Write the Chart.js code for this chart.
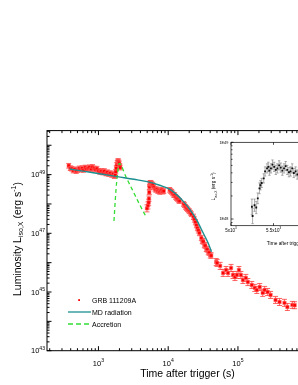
<!DOCTYPE html>
<html>
<head>
<meta charset="utf-8">
<script src="https://cdn.jsdelivr.net/npm/chart.js@4.4.1/dist/chart.umd.min.js"></script>
<style>
html, body { margin: 0; padding: 0; overflow: hidden; background: #fff; }
#wrap { position: relative; width: 330px; height: 385px; }
#c1 { position: absolute; left: 0; top: 0; }
#c2 { position: absolute; left: 200px; top: 130px; }
</style>
</head>
<body>
<div id="wrap">
  <canvas id="c1" width="330" height="385"></canvas>
  <canvas id="c2" width="160" height="120"></canvas>
</div>
<script>
const FONT = '"Liberation Sans", Arial, sans-serif';

// GRB 111209A X-ray light curve: time (s), log10 L (erg/s), error (dex)
const grbTime = [
  375, 395, 414, 435, 457, 480, 504, 530, 556, 585, 612, 645, 676, 710, 745, 785, 822,
  865, 906, 950, 1000, 1050, 1104, 1160, 1216, 1280, 1343, 1410, 1479, 1550, 1633, 1690, 1742,
  1770, 1799, 1830, 1862, 1890, 1923, 1955, 1986, 2020, 2051,
  4960, 5120, 5250, 5300, 5350, 5400, 5430, 5470, 5550, 5650, 5750, 5850,
  6020, 6220, 6450, 6650, 6900, 7100, 7350, 7570, 7820, 8090, 8350, 8630,
  10500, 10850, 11210, 11600, 11970, 12370, 12770, 13200, 13640, 14100, 14550,
  16600, 17150, 17700, 18300, 18900, 19550, 20200, 20850, 21500,
  23000, 23750, 24550, 25350, 26200, 27100, 28000,
  29870, 30850, 31900, 32950, 34000, 35150, 36300, 37550, 38800, 40100, 41400,
  48750, 50350, 55600, 61250, 67600, 72100, 79600, 84900, 90600, 96800,
  103300, 110300, 117800, 129800, 138600, 158000, 174200, 186200, 205200, 226300,
  241500, 266600, 293800, 345800, 394500, 464400, 511400, 602000, 650000
];
const grbLogL = [
  49.30, 49.22, 49.20, 49.14, 49.18, 49.12, 49.16, 49.21, 49.17, 49.22, 49.16, 49.24, 49.19, 49.22, 49.25, 49.19, 49.26,
  49.21, 49.17, 49.20, 49.13, 49.09, 49.12, 49.07, 49.12, 49.04, 49.08, 49.02, 49.05, 48.99, 49.02, 48.95, 48.98,
  49.10, 49.22, 49.33, 49.40, 49.45, 49.46, 49.42, 49.38, 49.30, 49.24,
  47.85, 47.95, 48.05, 48.18, 48.40, 48.58, 48.68, 48.70, 48.72, 48.68, 48.70, 48.63,
  48.66, 48.58, 48.52, 48.48, 48.50, 48.44, 48.46, 48.41, 48.45, 48.48, 48.42, 48.44,
  48.48, 48.44, 48.41, 48.36, 48.31, 48.30, 48.24, 48.20, 48.17, 48.12, 48.10,
  48.00, 47.96, 47.90, 47.86, 47.82, 47.78, 47.75, 47.70, 47.65,
  47.56, 47.47, 47.38, 47.28, 47.18, 47.10, 47.01,
  46.84, 46.74, 46.72, 46.60, 46.58, 46.47, 46.45, 46.36, 46.34, 46.25, 46.24,
  46.02, 45.99, 45.89, 45.65, 45.75, 45.65, 45.82, 45.58, 45.51, 45.58,
  45.75, 45.58, 45.41, 45.48, 45.34, 45.24, 45.14, 45.07, 45.17, 44.97,
  45.07, 45.00, 44.90, 44.73, 44.66, 44.63, 44.49, 44.56, 44.55
];
const grbErr = [
  0.08, 0.08, 0.08, 0.08, 0.08, 0.08, 0.08, 0.08, 0.08, 0.08, 0.08, 0.08, 0.08, 0.08, 0.08, 0.08, 0.08,
  0.08, 0.08, 0.08, 0.08, 0.08, 0.08, 0.08, 0.08, 0.08, 0.08, 0.08, 0.08, 0.08, 0.08, 0.08, 0.08,
  0.08, 0.08, 0.08, 0.08, 0.08, 0.08, 0.08, 0.08, 0.08, 0.08,
  0.12, 0.12, 0.11, 0.09, 0.08, 0.08, 0.08, 0.08, 0.08, 0.08, 0.08, 0.08,
  0.08, 0.08, 0.08, 0.08, 0.08, 0.08, 0.08, 0.08, 0.08, 0.08, 0.08, 0.08,
  0.08, 0.08, 0.08, 0.08, 0.08, 0.08, 0.08, 0.08, 0.08, 0.08, 0.08,
  0.08, 0.08, 0.08, 0.08, 0.08, 0.08, 0.08, 0.08, 0.08,
  0.09, 0.09, 0.09, 0.09, 0.09, 0.09, 0.09,
  0.09, 0.09, 0.09, 0.09, 0.09, 0.09, 0.09, 0.09, 0.09, 0.09, 0.09,
  0.12, 0.12, 0.12, 0.12, 0.12, 0.12, 0.12, 0.12, 0.12, 0.12,
  0.12, 0.12, 0.12, 0.12, 0.12, 0.12, 0.12, 0.12, 0.12, 0.12,
  0.12, 0.12, 0.12, 0.12, 0.12, 0.12, 0.12, 0.12, 0.12
];

// magnetar dipole (MD) radiation model
const mdTime = [388, 632, 1033, 1862, 3243, 5000, 7740, 10740, 13330, 16600, 20650, 25650, 31900, 37500, 41800];
const mdLogL = [49.19, 49.11, 49.03, 48.93, 48.84, 48.76, 48.63, 48.49, 48.31, 48.08, 47.80, 47.45, 47.00, 46.66, 46.37];

// accretion flare model
const accTime = [1670, 1783, 1879, 1986, 2099, 2472, 3070, 3816, 4750];
const accLogL = [47.42, 48.47, 49.04, 49.38, 49.33, 48.93, 48.48, 48.02, 47.59];

// inset: zoom on the flare near 5x10^3 s
const insetTime = [
  5246, 5254, 5277, 5297, 5315, 5335, 5346, 5361, 5385, 5401, 5424, 5439, 5452, 5470, 5488, 5508, 5527,
  5546, 5566, 5585, 5604, 5624, 5643, 5662, 5682, 5701, 5720, 5739, 5760, 5780, 5800, 5830, 5860, 5890
];
const insetLogL = [
  48.16, 48.04, 48.18, 48.15, 48.27, 48.40, 48.44, 48.47, 48.53, 48.62, 48.66, 48.68, 48.63, 48.66, 48.71, 48.68, 48.64,
  48.66, 48.70, 48.67, 48.63, 48.66, 48.69, 48.64, 48.61, 48.62, 48.66, 48.60, 48.62, 48.58, 48.61, 48.57, 48.60, 48.56
];
const insetErr = [
  0.10, 0.10, 0.08, 0.08, 0.07, 0.07, 0.06, 0.06, 0.06, 0.06, 0.06, 0.06, 0.06, 0.06, 0.06, 0.06, 0.06,
  0.06, 0.06, 0.06, 0.06, 0.06, 0.06, 0.06, 0.06, 0.06, 0.06, 0.06, 0.06, 0.06, 0.06, 0.06, 0.06, 0.06
];

// tick labels
const xTickVals = [1e3, 1e4, 1e5];
const yTickVals = [1e43, 1e45, 1e47, 1e49];
const insetXTicks = [5000, 5500, 6000];
const insetXLabels = [['5x10', '3'], ['5.5x10', '3']];
const insetYTicks = [1e48, 1e49];
const insetYLabels = ['1E48', '1E49'];

function points(ts, logs) {
  return ts.map((t, i) => ({x: t, y: Math.pow(10, logs[i])}));
}

function logMarks(scale) {
  const out = [];
  const lo = Math.floor(Math.log10(scale.min)), hi = Math.ceil(Math.log10(scale.max));
  for (let e = lo; e <= hi; e++) {
    for (let m = 1; m < 10; m++) {
      const v = m * Math.pow(10, e);
      if (v >= scale.min * 0.999 && v <= scale.max * 1.001) out.push({v, major: m === 1});
    }
  }
  return out;
}

function supText(ctx, x, y, base, exp, size, align) {
  const es = size * 0.68;
  ctx.font = size + 'px ' + FONT;
  const wb = ctx.measureText(base).width;
  ctx.font = es + 'px ' + FONT;
  const we = exp ? ctx.measureText(exp).width : 0;
  const w = wb + we;
  const x0 = align === 'center' ? x - w / 2 : align === 'right' ? x - w : x;
  ctx.textAlign = 'left';
  ctx.textBaseline = 'alphabetic';
  ctx.font = size + 'px ' + FONT;
  ctx.fillText(base, x0, y);
  if (exp) {
    ctx.font = es + 'px ' + FONT;
    ctx.fillText(exp, x0 + wb, y - size * 0.5);
  }
}

function richText(ctx, parts, cx, cy, rotate) {
  ctx.save();
  ctx.translate(cx, cy);
  if (rotate) ctx.rotate(-Math.PI / 2);
  ctx.textAlign = 'left';
  ctx.textBaseline = 'alphabetic';
  let w = 0;
  parts.forEach(p => { ctx.font = p[1] + 'px ' + FONT; w += ctx.measureText(p[0]).width; });
  let x = -w / 2;
  parts.forEach(p => {
    ctx.font = p[1] + 'px ' + FONT;
    ctx.fillText(p[0], x, p[2]);
    x += ctx.measureText(p[0]).width;
  });
  ctx.restore();
}

const errorBars = {
  id: 'errorBars',
  beforeDatasetsDraw(chart) {
    const {ctx, chartArea: a, scales} = chart;
    ctx.save();
    ctx.beginPath();
    ctx.rect(a.left, a.top, a.right - a.left, a.bottom - a.top);
    ctx.clip();
    chart.data.datasets.forEach(ds => {
      if (!ds.errors) return;
      ctx.strokeStyle = ds.errorColor;
      ctx.lineWidth = ds.errorWidth;
      const cap = ds.errorCap;
      ctx.beginPath();
      ds.data.forEach((p, j) => {
        const f = Math.pow(10, ds.errors[j]);
        const px = scales.x.getPixelForValue(p.x);
        const y1 = scales.y.getPixelForValue(p.y * f);
        const y2 = scales.y.getPixelForValue(p.y / f);
        ctx.moveTo(px, y1); ctx.lineTo(px, y2);
        ctx.moveTo(px - cap, y1); ctx.lineTo(px + cap, y1);
        ctx.moveTo(px - cap, y2); ctx.lineTo(px + cap, y2);
      });
      ctx.stroke();
    });
    ctx.restore();
  }
};

function makeDecor(cfg) {
  return {
    id: 'decor',
    afterDraw(chart) {
      const {ctx, chartArea: a, scales: {x, y}} = chart;
      ctx.save();
      ctx.strokeStyle = '#000';
      ctx.fillStyle = '#000';
      ctx.lineWidth = cfg.lw;
      ctx.strokeRect(a.left, a.top, a.right - a.left, a.bottom - a.top);
      const xm = x.type === 'logarithmic' ? logMarks(x) : cfg.xMarks.map(v => ({v, major: true}));
      const ym = logMarks(y);
      ctx.beginPath();
      xm.forEach(m => {
        const px = x.getPixelForValue(m.v), l = m.major ? cfg.major : cfg.minor;
        ctx.moveTo(px, a.bottom); ctx.lineTo(px, a.bottom - l);
        ctx.moveTo(px, a.top); ctx.lineTo(px, a.top + l);
      });
      ym.forEach(m => {
        const py = y.getPixelForValue(m.v), l = m.major ? cfg.major : cfg.minor;
        ctx.moveTo(a.left, py); ctx.lineTo(a.left + l, py);
        ctx.moveTo(a.right, py); ctx.lineTo(a.right - l, py);
      });
      ctx.stroke();
      cfg.xLabels.forEach(l => supText(ctx, x.getPixelForValue(l.v), a.bottom + cfg.xDy, l.base, l.exp, cfg.xFont, 'center'));
      cfg.yLabels.forEach(l => supText(ctx, a.left - cfg.yDx, y.getPixelForValue(l.v) + cfg.yFont * 0.36, l.base, l.exp, cfg.yFont, 'right'));
      if (cfg.extra) cfg.extra(ctx, chart);
      ctx.restore();
    }
  };
}

function mainExtras(ctx) {
  // axis titles
  richText(ctx, [['Luminosity L', 10.5, 0], ['iso,X', 7, 2.5], [' (erg s', 10.5, 0], ['-1', 7, -4.5], [')', 10.5, 0]], 20.5, 239, true);
  richText(ctx, [['Time after trigger (s)', 10.5, 0]], 187.5, 376.7, false);
  // legend
  ctx.fillStyle = '#ff0000';
  ctx.fillRect(78.2, 299.2, 1.8, 1.8);
  ctx.lineWidth = 1.3;
  ctx.strokeStyle = '#1b8f8f';
  ctx.beginPath(); ctx.moveTo(68, 312); ctx.lineTo(91, 312); ctx.stroke();
  ctx.strokeStyle = '#33dd33';
  ctx.setLineDash([5, 3]);
  ctx.beginPath(); ctx.moveTo(68, 324); ctx.lineTo(91, 324); ctx.stroke();
  ctx.setLineDash([]);
  ctx.fillStyle = '#000';
  ctx.font = '7px ' + FONT;
  ctx.textAlign = 'left';
  ctx.textBaseline = 'alphabetic';
  ctx.fillText('GRB 111209A', 92, 302.5);
  ctx.fillText('MD radiation', 92, 314.5);
  ctx.fillText('Accretion', 92, 326.5);
}

function insetExtras(ctx) {
  richText(ctx, [['L', 4.8, 0], ['iso,X', 3.3, 1.2], [' (erg s', 4.8, 0], ['-1', 3.3, -2], [')', 4.8, 0]], 15.4, 56.5, true);
  richText(ctx, [['Time after trigger (s)', 4.8, 0]], 88.5, 115, false);
}

new Chart(document.getElementById('c1'), {
  type: 'scatter',
  data: {
    datasets: [
      {
        label: 'MD radiation',
        data: points(mdTime, mdLogL),
        showLine: true,
        borderColor: '#1b8f8f',
        borderWidth: 1.4,
        pointRadius: 0,
        cubicInterpolationMode: 'monotone'
      },
      {
        label: 'Accretion',
        data: points(accTime, accLogL),
        showLine: true,
        borderColor: '#33dd33',
        borderWidth: 1.3,
        borderDash: [4, 3],
        pointRadius: 0,
        cubicInterpolationMode: 'monotone'
      },
      {
        label: 'GRB 111209A',
        data: points(grbTime, grbLogL),
        errors: grbErr,
        errorColor: 'rgba(255,60,60,0.8)',
        errorWidth: 1,
        errorCap: 2.5,
        pointStyle: 'rect',
        pointRadius: 2.4,
        backgroundColor: '#ff0000',
        borderColor: 'rgba(255,110,110,0.55)',
        borderWidth: 1
      }
    ]
  },
  options: {
    responsive: false,
    animation: false,
    layout: {padding: {top: 130.6, right: 2, left: 0, bottom: 0}},
    plugins: {legend: {display: false}, tooltip: {enabled: false}},
    scales: {
      x: {
        type: 'logarithmic', min: 183, max: 1.77e6,
        grid: {display: false}, border: {display: false}, ticks: {display: false},
        afterFit: s => { s.height = 34.3; }
      },
      y: {
        type: 'logarithmic', min: 1e43, max: 3.16e50,
        grid: {display: false}, border: {display: false}, ticks: {display: false},
        afterFit: s => { s.width = 47; }
      }
    }
  },
  plugins: [errorBars, makeDecor({
    lw: 1, major: 4.5, minor: 2.5,
    xLabels: xTickVals.map(v => ({v, base: '10', exp: String(Math.round(Math.log10(v)))})),
    yLabels: yTickVals.map(v => ({v, base: '10', exp: String(Math.round(Math.log10(v)))})),
    xFont: 7.5, yFont: 7.5, xDy: 15.3, yDx: 2,
    extra: mainExtras
  })]
});

new Chart(document.getElementById('c2'), {
  type: 'scatter',
  data: {
    datasets: [{
      label: 'inset',
      data: points(insetTime, insetLogL),
      errors: insetErr,
      errorColor: '#8a8a8a',
      errorWidth: 0.7,
      errorCap: 1.2,
      pointStyle: 'rect',
      pointRadius: 1.3,
      backgroundColor: '#111',
      borderWidth: 0
    }]
  },
  options: {
    responsive: false,
    animation: false,
    layout: {padding: {top: 12.3, right: 14, left: 0, bottom: 0}},
    plugins: {legend: {display: false}, tooltip: {enabled: false}},
    scales: {
      x: {
        type: 'linear', min: 5000, max: 6353,
        grid: {display: false}, border: {display: false}, ticks: {display: false},
        afterFit: s => { s.height = 24.3; }
      },
      y: {
        type: 'logarithmic', min: Math.pow(10, 47.913), max: 1e49,
        grid: {display: false}, border: {display: false}, ticks: {display: false},
        afterFit: s => { s.width = 31; }
      }
    }
  },
  plugins: [errorBars, makeDecor({
    lw: 0.7, major: 2.5, minor: 1.5,
    xMarks: insetXTicks,
    xLabels: insetXLabels.map((l, i) => ({v: insetXTicks[i], base: l[0], exp: l[1]})),
    yLabels: insetYLabels.map((l, i) => ({v: insetYTicks[i], base: l, exp: ''})),
    xFont: 4.5, yFont: 3.8, xDy: 5.8, yDx: 2.7,
    extra: insetExtras
  })]
});
</script>
</body>
</html>
